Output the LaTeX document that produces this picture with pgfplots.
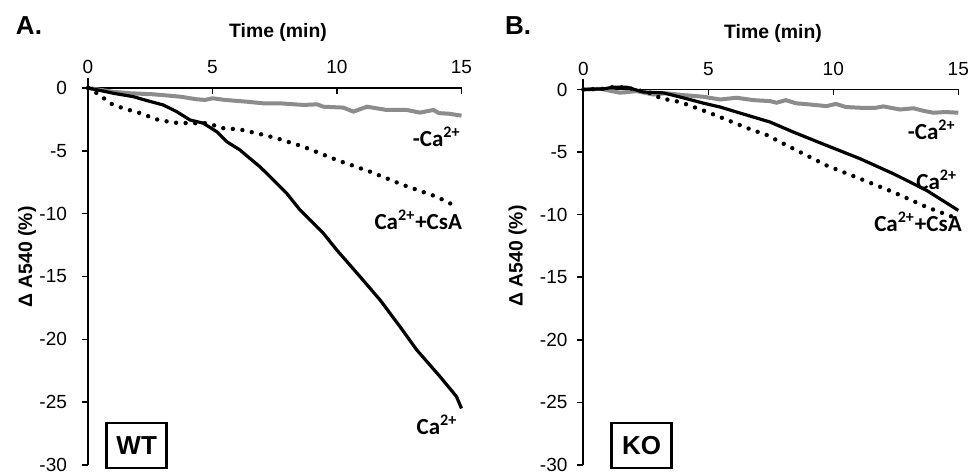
\documentclass[border=0pt]{standalone}
\usepackage{fontspec}
\setmainfont{Liberation Sans}
\newfontfamily\calibri{Carlito}
\usepackage{pgfplots}
\pgfplotsset{compat=1.18}

\definecolor{lgray}{RGB}{140,140,140}

% swelling curves, panel A (WT)
\pgfplotstableread{
t y
0 0
0.5 -0.15
1 -0.3
1.7 -0.42
2.6 -0.5
3.2 -0.6
3.7 -0.69
4.37 -0.9
4.7 -0.95
5.0 -0.82
5.5 -0.95
6.37 -1.09
7.04 -1.22
7.7 -1.22
8.65 -1.35
9.2 -1.3
9.45 -1.49
10.25 -1.56
10.66 -1.88
11.2 -1.49
12.0 -1.75
12.8 -1.75
13.33 -1.96
13.87 -1.75
14.1 -2.0
14.5 -2.05
15 -2.2
}\wtnoca
\pgfplotstableread{
t y
0 0
0.5 -0.2
1.02 -0.42
1.82 -0.69
2.36 -1.0
3.02 -1.35
3.56 -1.88
4.1 -2.55
4.63 -2.8
5.17 -3.48
5.57 -4.27
6.1 -4.93
6.5 -5.6
6.9 -6.26
7.31 -7.05
7.98 -8.38
8.51 -9.7
9.45 -11.56
9.99 -12.89
10.92 -15.0
11.73 -16.87
12.53 -18.99
13.2 -20.84
14.14 -22.97
14.8 -24.56
15 -25.5
}\wtca
\pgfplotstableread{
t y
0 0
0.48 -0.56
0.88 -1.22
1.42 -1.62
2.09 -2.0
2.76 -2.5
3.43 -2.76
4.1 -2.8
4.77 -2.8
5.44 -3.2
6.1 -3.3
6.9 -3.66
7.58 -4.0
8.65 -4.67
9.99 -5.73
11.33 -6.66
12.66 -7.72
14.0 -8.65
14.8 -9.44
}\wtcsa

% panel B (KO)
\pgfplotstableread{
t y
0 0
0.7 0.05
1.47 -0.26
2.13 -0.13
2.8 -0.4
3.3 -0.3
4.0 -0.45
4.8 -0.58
5.47 -0.8
6.13 -0.66
6.8 -0.85
7.47 -0.93
7.73 -1.06
8.1 -0.85
8.5 -1.1
9.07 -1.2
9.73 -1.33
10.1 -1.15
10.5 -1.4
11.07 -1.46
11.7 -1.46
12.0 -1.35
12.67 -1.6
13.2 -1.5
13.6 -1.7
14.0 -1.86
14.5 -1.8
15 -1.86
}\konoca
\pgfplotstableread{
t y
0 0
0.8 0.05
1.2 0.18
1.74 0.18
2.4 -0.2
3.2 -0.27
3.87 -0.6
4.8 -1.09
5.47 -1.4
6.13 -1.8
6.8 -2.2
7.47 -2.6
8.4 -3.4
9.73 -4.47
11.07 -5.53
12.4 -6.73
13.73 -8.06
15 -9.66
}\koca
\pgfplotstableread{
t y
0 0
0.8 0.05
1.2 0.2
1.74 0.15
2.4 -0.15
2.8 -0.35
3.07 -0.69
3.87 -1.0
4.8 -1.68
5.47 -2.2
6.13 -2.74
6.8 -3.27
7.3 -3.6
8.4 -4.73
9.73 -6.07
11.07 -7.13
12.4 -8.2
13.73 -9.39
14.8 -10.2
}\kocsa

\pgfplotsset{
  base/.style={scale only axis, anchor=south west,
    xmin=0, xmax=15, ymin=-30, ymax=0, clip=false,
    /pgf/number format/assume math mode=true,
    ticklabel style={font=\fontsize{9.5}{11}\selectfont},
    major tick length=3pt, tick style={black, line width=0.8pt},
    axis line style={black, line width=0.9pt, -}},
  % y axis runs a little above 0, as in the original
  yside/.style={base, axis y line=left, axis x line=none, ymax=0.8,
    ytick={-30,-25,...,0}, tick align=outside,
    y axis line style={-},
    every outer y axis line/.append style={-}},
  xside/.style={base, axis x line=top, axis y line=none,
    xtick={0,5,10,15}, tick align=inside,
    x axis line style={-},
    xticklabel style={yshift=3.4pt}},
  noca/.style={color=lgray, line width=2pt},
  ca/.style={black, line width=1.6pt},
  csa/.style={black, line width=2.2pt, line cap=round, dash pattern=on 0pt off 4.8pt},
}

\begin{document}
\begin{tikzpicture}[x=0.5pt, y=0.5pt]
\path[use as bounding box] (0,0) rectangle (970,474);

% ---- A: WT
\begin{axis}[yside, at={(44pt,4.5pt)}, width=186.75pt, height=193.53pt,
  yticklabel style={xshift=-4pt}]
\end{axis}
\begin{axis}[xside, at={(44pt,4.5pt)}, width=186.75pt, height=188.5pt]
\addplot[noca] table {\wtnoca};
\addplot[csa] table {\wtcsa};
\addplot[ca] table {\wtca};
\end{axis}

% ---- B: KO
\begin{axis}[yside, at={(291.65pt,4.5pt)}, width=187.5pt, height=192.76pt,
  yticklabel style={xshift=-1.4pt}]
\end{axis}
\begin{axis}[xside, at={(291.65pt,4.5pt)}, width=187.5pt, height=187.75pt]
\addplot[noca] table {\konoca};
\addplot[csa] table {\kocsa};
\addplot[ca] table {\koca};
\end{axis}

% panel letters and axis titles
\node[font=\fontsize{13}{15}\selectfont\bfseries] at (29,448) {A.};
\node[font=\fontsize{13}{15}\selectfont\bfseries] at (518,448) {B.};
\node[font=\fontsize{9.7}{11}\selectfont\bfseries] at (278,442) {Time (min)};
\node[font=\fontsize{9.7}{11}\selectfont\bfseries] at (773,441) {Time (min)};
\node[font=\fontsize{9.7}{11}\selectfont\bfseries, rotate=90] at (27,217) {Δ A540 (\%)};
\node[font=\fontsize{9.7}{11}\selectfont\bfseries, rotate=90] at (517.5,218) {Δ A540 (\%)};

% series labels
\begin{scope}[font=\calibri\fontsize{11.5}{13}\selectfont\bfseries]
\node at (436.7,337.3) {-Ca\textsuperscript{2+}};
\node at (418.3,254) {Ca\textsuperscript{2+}+CsA};
\node at (437,49) {Ca\textsuperscript{2+}};
\node at (931.7,344) {-Ca\textsuperscript{2+}};
\node at (936.7,294) {Ca\textsuperscript{2+}};
\node at (918,252.3) {Ca\textsuperscript{2+}+CsA};
\end{scope}

% genotype boxes
\node[draw, line width=1.3pt, minimum width=30pt, minimum height=22.5pt, inner sep=0pt,
  font=\fontsize{13}{15}\selectfont\bfseries] at (136.7,28.5) {WT};
\node[draw, line width=1.3pt, minimum width=30pt, minimum height=22.5pt, inner sep=0pt,
  font=\fontsize{13}{15}\selectfont\bfseries] at (641.7,28.5) {KO};
\end{tikzpicture}
\end{document}
